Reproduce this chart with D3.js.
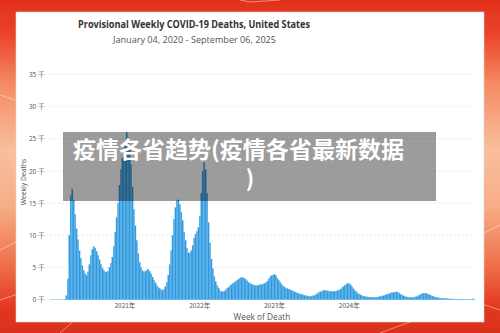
<!DOCTYPE html>
<html>
<head>
<meta charset="utf-8">
<script src="https://cdn.jsdelivr.net/npm/d3@7"></script>
<style>
  html, body { margin: 0; padding: 0; background: #fff; }
  svg { display: block; }
</style>
</head>
<body>
<svg id="chart" width="500" height="333"></svg>
<script>
// ---- data (weekly COVID-19 deaths, thousands) ----
const startWeek = "2020-01-04";
const endWeek = "2025-09-06";
const weeklyDeathsThousands = [
  0,0,0,0,0,0,0,0,0,0.01,
  0.06,0.6,3.2,10.0,16.2,17.2,15.5,13.2,11.0,9.3,
  7.6,6.4,5.3,4.5,4.0,3.8,4.3,5.4,6.8,7.8,
  8.2,8.0,7.5,6.9,6.2,5.5,4.9,4.5,4.3,4.3,
  4.4,5.0,5.6,6.6,8.2,10.5,12.8,15.0,17.8,20.2,
  22.0,22.3,23.8,26.0,25.2,23.5,21.0,17.5,14.0,11.5,
  9.2,7.2,5.8,5.0,4.5,4.3,4.4,4.6,4.7,4.4,
  4.0,3.5,3.0,2.6,2.2,1.9,1.7,1.5,1.5,1.6,
  2.0,2.7,3.8,5.4,7.6,10.0,12.5,14.3,15.4,15.5,
  14.8,13.6,12.3,10.5,9.2,8.0,7.3,7.2,7.6,8.4,
  9.5,10.2,10.6,11.2,13.0,16.5,20.0,21.3,20.2,16.5,
  12.0,8.8,6.3,4.8,3.6,2.8,2.2,1.8,1.4,1.2,
  1.2,1.3,1.5,1.7,1.9,2.1,2.3,2.5,2.6,2.8,
  3.0,3.2,3.3,3.4,3.4,3.3,3.1,2.9,2.7,2.5,
  2.4,2.3,2.2,2.2,2.2,2.2,2.3,2.3,2.4,2.5,
  2.6,2.8,3.2,3.5,3.7,3.8,3.9,3.7,3.3,3.0,
  2.7,2.3,2.1,1.95,1.8,1.7,1.6,1.5,1.4,1.3,
  1.2,1.1,1.0,0.9,0.85,0.8,0.72,0.65,0.6,0.55,
  0.52,0.5,0.52,0.58,0.65,0.75,0.9,1.05,1.2,1.3,
  1.4,1.45,1.4,1.35,1.3,1.28,1.25,1.25,1.28,1.3,
  1.35,1.45,1.6,1.8,2.0,2.2,2.35,2.5,2.5,2.3,
  2.0,1.7,1.4,1.2,1.0,0.85,0.72,0.6,0.52,0.46,
  0.42,0.4,0.38,0.36,0.35,0.34,0.34,0.36,0.38,0.42,
  0.47,0.53,0.6,0.68,0.76,0.85,0.93,1.0,1.06,1.1,
  1.15,1.18,1.12,1.0,0.85,0.7,0.58,0.48,0.4,0.35,
  0.32,0.3,0.3,0.33,0.38,0.45,0.55,0.67,0.8,0.9,
  0.98,1.0,0.95,0.85,0.75,0.64,0.54,0.45,0.38,0.32,
  0.27,0.23,0.2,0.17,0.15,0.13,0.11,0.1,0.09,0.08,
  0.07,0.06,0.06,0.05,0.05,0.05,0.04,0.04,0.04,0.03,
  0.03,0.03,0.02,0.02,0.02,0.01,0.01
];
const yTickValues = [0, 5, 10, 15, 20, 25, 30, 35];
const yTickSuffix = " 千";
const xTickDates = ["2021-01-01", "2022-01-01", "2023-01-01", "2024-01-01"];
const xTickLabels = ["2021年", "2022年", "2023年", "2024年"];
const titleText = "Provisional Weekly COVID-19 Deaths, United States";
const subtitleText = "January 04, 2020 - September 06, 2025";
const yAxisTitle = "Weekly Deaths";
const xAxisTitle = "Week of Death";
const overlayLine1 = "疫情各省趋势(疫情各省最新数据";
const overlayLine2 = ")";

// ---- layout ----
const W = 500, H = 333;
const plot = { left: 50, right: 476, top: 74.5, bottom: 299.5 };
const svg = d3.select("#chart");
const parse = d3.utcParse("%Y-%m-%d");
const DAY = 86400000;
const start = parse(startWeek);
const weeks = weeklyDeathsThousands.map((v, i) => ({ date: new Date(start.getTime() + i * 7 * DAY), value: v }));

// ---- background ----
const defs = svg.append("defs");
const bg = defs.append("linearGradient").attr("id", "bgGrad").attr("x1", 0).attr("y1", 0).attr("x2", 0).attr("y2", 1);
[[0, "#e2301b"], [0.1, "#ea4328"], [0.25, "#f48a62"], [0.45, "#f9bf9c"], [0.62, "#f7ad86"], [0.8, "#ef6e48"], [0.92, "#e23a20"], [1, "#d8301b"]]
  .forEach(([o, c]) => bg.append("stop").attr("offset", o).attr("stop-color", c));
svg.append("rect").attr("width", W).attr("height", H).attr("fill", "url(#bgGrad)");
// faint white diagonal decorations
const deco = [
  [[0, 250], [40, 230], [120, 280], [60, 333]],
  [[0, 300], [30, 290]],
  [[380, 333], [470, 300], [500, 310]],
  [[470, 240], [500, 225]],
  [[0, 95], [15, 100]],
  [[720 / 3, 0], [250, 2], [280, 0]]
];
deco.forEach(pts => svg.append("path").attr("d", d3.line()(pts)).attr("fill", "none")
  .attr("stroke", "#fff").attr("stroke-opacity", 0.55).attr("stroke-width", 0.8));

// card
svg.append("rect").attr("x", 16).attr("y", 12).attr("width", 468).attr("height", 310)
  .attr("fill", "#fff").attr("stroke", "#d8d8d8").attr("stroke-width", 0.6);

// ---- scales ----
const x = d3.scaleUtc()
  .domain([start, new Date(parse(endWeek).getTime() + 7 * DAY)])
  .range([plot.left, plot.right]);
const y = d3.scaleLinear().domain([0, 35]).range([plot.bottom, plot.top]);

// grid
svg.append("g").selectAll("line").data(yTickValues.filter(t => t > 0)).join("line")
  .attr("x1", plot.left).attr("x2", 475).attr("y1", d => y(d)).attr("y2", d => y(d))
  .attr("stroke", "#dcdcdc").attr("stroke-width", 0.6).attr("stroke-dasharray", "2,2");

// y axis labels
const yAxis = d3.axisLeft(y).tickValues(yTickValues).tickSize(0).tickPadding(0)
  .tickFormat(d => d + yTickSuffix);
const gy = svg.append("g").attr("transform", `translate(45,0)`).call(yAxis);
gy.select(".domain").remove();
gy.selectAll("text").attr("font-family", "'Open Sans', sans-serif").attr("font-size", 6.5).attr("fill", "#555");

// baseline
svg.append("line").attr("x1", plot.left).attr("x2", 474).attr("y1", y(0)).attr("y2", y(0))
  .attr("stroke", "#9fd0ef").attr("stroke-width", 0.8);

// bars
const bw = x(new Date(start.getTime() + 7 * DAY)) - x(start);
svg.append("g").selectAll("rect").data(weeks).join("rect")
  .attr("x", d => x(d.date))
  .attr("width", bw)
  .attr("y", d => y(d.value))
  .attr("height", d => y(0) - y(d.value))
  .attr("fill", "#2f97db")
  .attr("stroke", "#6cbdf0")
  .attr("stroke-width", 0.3);

// end dot
svg.append("circle").attr("cx", x(weeks[weeks.length - 1].date) + bw / 2 - 2).attr("cy", y(0) - 0.5).attr("r", 0.8).attr("fill", "#5aaee6");

// x axis labels
const xAxis = d3.axisBottom(x).tickValues(xTickDates.map(parse)).tickSize(0).tickPadding(4)
  .tickFormat((d, i) => xTickLabels[i]);
const gx = svg.append("g").attr("transform", `translate(0,${plot.bottom})`).call(xAxis);
gx.select(".domain").remove();
gx.selectAll("text").attr("font-family", "'Noto Sans CJK SC', sans-serif").attr("font-size", 6.5).attr("fill", "#555");

// titles
svg.append("text").attr("x", 194).attr("y", 27.5).attr("text-anchor", "middle")
  .attr("font-family", "'Open Sans', sans-serif").attr("font-weight", 700).attr("font-size", 9.8)
  .attr("fill", "#333").attr("textLength", 232).attr("lengthAdjust", "spacingAndGlyphs").text(titleText);
svg.append("text").attr("x", 194.5).attr("y", 42.5).attr("text-anchor", "middle")
  .attr("font-family", "'Open Sans', sans-serif").attr("font-size", 8.6)
  .attr("fill", "#555").attr("textLength", 163).attr("lengthAdjust", "spacingAndGlyphs").text(subtitleText);
svg.append("text").attr("transform", "translate(25.5,182) rotate(-90)").attr("text-anchor", "middle")
  .attr("font-family", "'Open Sans', sans-serif").attr("font-size", 6.8).attr("fill", "#555").text(yAxisTitle);
svg.append("text").attr("x", 262).attr("y", 320).attr("text-anchor", "middle")
  .attr("font-family", "'Open Sans', sans-serif").attr("font-size", 8.3).attr("fill", "#555").text(xAxisTitle);

// overlay banner
svg.append("rect").attr("x", 63).attr("y", 132).attr("width", 373).attr("height", 69)
  .attr("fill", "#000").attr("fill-opacity", 0.39);
svg.append("text").attr("x", 73).attr("y", 157.5)
  .attr("font-family", "'Noto Sans CJK SC', sans-serif").attr("font-weight", 700).attr("font-size", 22.5)
  .attr("fill", "#fff").attr("textLength", 331).attr("lengthAdjust", "spacingAndGlyphs").text(overlayLine1);
svg.append("text").attr("x", 250).attr("y", 187).attr("text-anchor", "middle")
  .attr("font-family", "'Noto Sans CJK SC', sans-serif").attr("font-weight", 700).attr("font-size", 22.5)
  .attr("fill", "#fff").text(overlayLine2);
</script>
</body>
</html>
